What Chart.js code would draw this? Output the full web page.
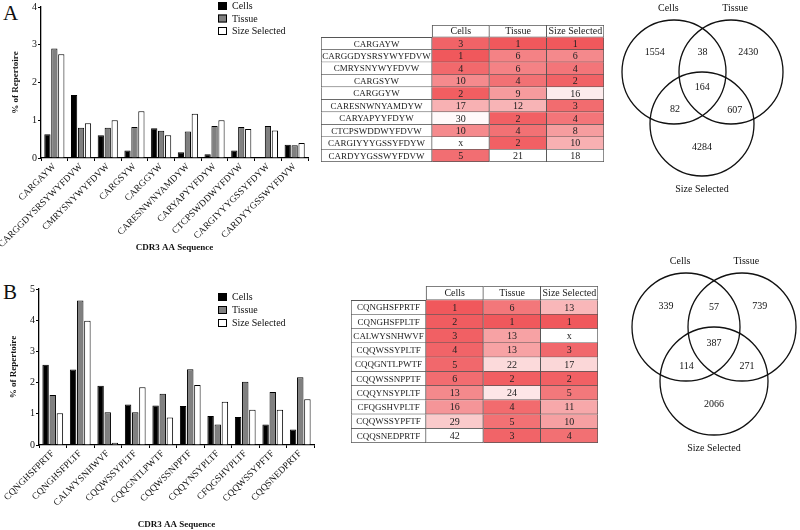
<!DOCTYPE html>
<html lang="en">
<head>
<meta charset="UTF-8">
<title>CDR3 repertoire overlap</title>
<script src="https://cdn.jsdelivr.net/npm/chart.js"></script>
<style>
    body { margin: 0; background: #fff; width: 800px; height: 530px; position: relative; overflow: hidden; font-family: "Liberation Serif", serif; }
    .box { position: absolute; }
    .panel { position: absolute; font-size: 21px; color: #111; line-height: 1; }
</style>
</head>
<body>

<div class="panel" style="left:3px;top:3px">A</div>
<div class="panel" style="left:3px;top:282px">B</div>

<!-- panel A -->
<div class="box" style="left:0;top:0;width:312px;height:255px"><canvas id="barA"></canvas></div>
<div class="box" style="left:321px;top:25px;width:283px;height:137px"><canvas id="tableA"></canvas></div>
<div class="box" style="left:610px;top:0;width:190px;height:200px"><canvas id="vennA"></canvas></div>

<!-- panel B -->
<div class="box" style="left:0;top:262px;width:316px;height:268px"><canvas id="barB"></canvas></div>
<div class="box" style="left:351px;top:286px;width:247px;height:157px"><canvas id="tableB"></canvas></div>
<div class="box" style="left:610px;top:255px;width:190px;height:205px"><canvas id="vennB"></canvas></div>

<script>
const groups = ['Cells', 'Tissue', 'Size Selected'];

// panel A
const seqA = ['CARGAYW', 'CARGGDYSRSYWYFDVW', 'CMRYSNYWYFDVW', 'CARGSYW', 'CARGGYW',
              'CARESNWNYAMDYW', 'CARYAPYYFDYW', 'CTCPSWDDWYFDVW', 'CARGIYYYGSSYFDYW', 'CARDYYGSSWYFDVW'];
const cellsA  = [0.63, 1.67, 0.60, 0.20, 0.79, 0.15, 0.10, 0.20, 0, 0.35];
const tissueA = [2.90, 0.80, 0.80, 0.82, 0.72, 0.70, 0.85, 0.82, 0.85, 0.34];
const sizeA   = [2.75, 0.92, 1.00, 1.24, 0.60, 1.17, 1.00, 0.77, 0.73, 0.40];
const rankCellsA  = [3, 1, 4, 10, 2, 17, 30, 10, 'x', 5];
const rankTissueA = [1, 6, 6, 4, 9, 12, 2, 4, 2, 21];
const rankSizeA   = [1, 6, 4, 2, 16, 3, 4, 8, 10, 18];
const vennA = [1554, 38, 2430, 164, 82, 607, 4284];

// panel B
const seqB = ['CQNGHSFPRTF', 'CQNGHSFPLTF', 'CALWYSNHWVF', 'CQQWSSYPLTF', 'CQQGNTLPWTF',
              'CQQWSSNPPTF', 'CQQYNSYPLTF', 'CFQGSHVPLTF', 'CQQWSSYPFTF', 'CQQSNEDPRTF'];
const cellsB  = [2.57, 2.42, 1.90, 1.30, 1.27, 1.25, 0.93, 0.90, 0.66, 0.50];
const tissueB = [1.60, 4.63, 1.05, 1.05, 1.64, 2.43, 0.66, 2.03, 1.70, 2.17];
const sizeB   = [1.02, 3.98, 0.07, 1.85, 0.88, 1.92, 1.39, 1.13, 1.13, 1.47];
const rankCellsB  = [1, 2, 3, 4, 5, 6, 13, 16, 29, 42];
const rankTissueB = [6, 1, 13, 13, 22, 2, 24, 4, 5, 3];
const rankSizeB   = [13, 1, 'x', 3, 17, 2, 5, 11, 10, 4];
const vennB = [339, 57, 739, 387, 114, 271, 2066];

const serif = '"Liberation Serif", "Times New Roman", serif';
const fills = ['#000000', '#808080', '#ffffff'];

// legend drawn inside the plot, boxes + labels
const boxLegend = {
    id: 'boxLegend',
    afterDraw(chart) {
        const o = chart.config.options.plugins.boxLegend;
        const ctx = chart.ctx;
        ctx.save();
        ctx.font = '10px ' + serif;
        ctx.textBaseline = 'middle';
        chart.data.datasets.forEach((ds, i) => {
            const y = o.y + i * o.step;
            ctx.fillStyle = ds.backgroundColor;
            ctx.fillRect(o.x, y, 9, 8);
            ctx.strokeStyle = '#000';
            ctx.lineWidth = 1;
            ctx.strokeRect(o.x + 0.5, y + 0.5, 8, 7);
            ctx.fillStyle = '#111';
            ctx.fillText(ds.label, o.x + 14, y + 4.5);
        });
        ctx.restore();
    }
};

function barChart(id, labels, series, yMax, cfg) {
    return new Chart(document.getElementById(id), {
        type: 'bar',
        data: {
            labels: labels,
            datasets: series.map((d, i) => ({
                label: groups[i], data: d, backgroundColor: fills[i],
                borderColor: '#000', borderWidth: 1,
                categoryPercentage: 0.78, barPercentage: 0.9
            }))
        },
        options: {
            responsive: true, maintainAspectRatio: false, animation: false,
            layout: { padding: cfg.pad },
            plugins: { legend: { display: false }, tooltip: { enabled: false }, boxLegend: cfg.legend },
            scales: {
                x: {
                    grid: { drawOnChartArea: false, tickLength: 3, color: '#000' },
                    border: { color: '#000', width: 1.3 },
                    ticks: { color: '#111', font: { family: serif, size: 9.5 }, minRotation: 45, maxRotation: 45, autoSkip: false, padding: 0 },
                    title: { display: true, text: 'CDR3 AA Sequence', color: '#111', font: { family: serif, size: 9, weight: 'bold' }, padding: { top: 0, bottom: cfg.titleGap } },
                    afterFit: s => { s.height = cfg.xh; }
                },
                y: {
                    min: 0, max: yMax,
                    grid: { drawOnChartArea: false, tickLength: 3, color: '#000' },
                    border: { color: '#000', width: 1.3 },
                    ticks: { stepSize: 1, color: '#111', font: { family: serif, size: 10 }, padding: 1 },
                    title: { display: true, text: '% of Repertoire', color: '#111', font: { family: serif, size: 9, weight: 'bold' }, padding: 0 },
                    afterFit: s => { s.width = cfg.yw; }
                }
            }
        },
        plugins: [boxLegend]
    });
}

// heat colour: rank 1 is full red, fading to white at whiteAt
function heat(v, whiteAt) {
    if (v === 'x') return '#ffffff';
    const t = Math.min(1, (v - 1) / (whiteAt - 1));
    const red = [240, 88, 92];
    const c = red.map(k => Math.round(k + (255 - k) * t));
    return 'rgb(' + c.join(',') + ')';
}

const cellText = {
    id: 'cellText',
    afterDatasetsDraw(chart) {
        const o = chart.config.options.plugins.cellText;
        const ctx = chart.ctx;
        ctx.save();
        ctx.textAlign = 'center';
        ctx.textBaseline = 'middle';
        ctx.fillStyle = '#222';
        chart.data.datasets.forEach((ds, di) => {
            ctx.font = (di === 0 ? o.nameSize : 10) + 'px ' + serif;
            chart.getDatasetMeta(di).data.forEach((el, i) => {
                if (ds.data[i] == null || !ds.text[i]) return;
                const p = el.getProps(['x', 'y', 'base'], true);
                ctx.fillText(ds.text[i], (p.x + p.base) / 2, p.y + 0.5);
            });
        });
        ctx.restore();
    }
};

function tableChart(id, rows, ranks, whiteAt, nameW, nameSize) {
    const labels = [''].concat(rows);
    const datasets = [{
        label: 'name',
        data: labels.map((_, i) => i === 0 ? null : [-nameW, 0]),
        backgroundColor: '#fff',
        text: labels
    }];
    groups.forEach((g, c) => datasets.push({
        label: g,
        data: labels.map(() => [c, c + 1]),
        backgroundColor: labels.map((_, i) => i === 0 ? '#fff' : heat(ranks[c][i - 1], whiteAt[c])),
        text: [g].concat(ranks[c].map(String))
    }));
    datasets.forEach(d => Object.assign(d, {
        grouped: false, categoryPercentage: 1, barPercentage: 1,
        borderColor: '#555', borderSkipped: false,
        borderWidth: ctx => ({
            left: (ctx.datasetIndex === 0 || (ctx.dataIndex === 0 && ctx.datasetIndex === 1)) ? 1 : 0,
            top: (ctx.dataIndex === 0 || (ctx.dataIndex === 1 && ctx.datasetIndex === 0)) ? 1 : 0,
            right: 1, bottom: 1
        })
    }));
    return new Chart(document.getElementById(id), {
        type: 'bar',
        data: { labels: labels, datasets: datasets },
        options: {
            indexAxis: 'y', responsive: true, maintainAspectRatio: false, animation: false,
            layout: { padding: 0 },
            plugins: { legend: { display: false }, tooltip: { enabled: false }, cellText: { nameSize: nameSize } },
            scales: {
                x: { display: false, min: -nameW, max: 3 },
                y: { display: false }
            }
        },
        plugins: [cellText]
    });
}

// three-circle venn on a pixel-like frame; counts placed relative to the circle centres
function vennChart(id, counts, c, t, s, r, h) {
    const mid = (a, b) => ({ x: (a.x + b.x) / 2, y: (a.y + b.y) / 2 });
    const at = (p, dx, dy) => ({ x: p.x + dx * r, y: p.y + dy * r });
    const cen = { x: (c.x + t.x + s.x) / 3, y: (c.y + t.y + s.y) / 3 };
    const spots = [
        at(c, -0.37, -0.38), at(mid(c, t), 0, -0.37), at(t, 0.33, -0.38),
        at(cen, 0, -0.03), at(mid(c, s), -0.25, 0.22), at(mid(t, s), 0.35, 0.23),
        at(s, 0, 0.44)
    ];
    const names = [at(c, -0.11, -1.22), at(t, 0.08, -1.22), at(s, 0, 1.25)];
    const vennText = {
        id: 'vennText',
        afterDatasetsDraw(chart) {
            const ctx = chart.ctx, X = chart.scales.x, Y = chart.scales.y;
            ctx.save();
            ctx.font = '10px ' + serif;
            ctx.textAlign = 'center';
            ctx.textBaseline = 'middle';
            ctx.fillStyle = '#111';
            counts.forEach((n, i) => ctx.fillText(String(n), X.getPixelForValue(spots[i].x), Y.getPixelForValue(spots[i].y)));
            groups.forEach((g, i) => ctx.fillText(g, X.getPixelForValue(names[i].x), Y.getPixelForValue(names[i].y)));
            ctx.restore();
        }
    };
    return new Chart(document.getElementById(id), {
        type: 'bubble',
        data: {
            datasets: [{
                data: [c, t, s].map(p => ({ x: p.x, y: p.y, r: r })),
                backgroundColor: 'rgba(0,0,0,0)', borderColor: '#111', borderWidth: 1.3,
                hoverRadius: 0, clip: false
            }]
        },
        options: {
            responsive: true, maintainAspectRatio: false, animation: false,
            layout: { padding: 0, autoPadding: false },
            plugins: { legend: { display: false }, tooltip: { enabled: false } },
            scales: {
                x: { display: false, min: 0, max: 190 },
                y: { display: false, min: 0, max: h, reverse: true }
            }
        },
        plugins: [vennText]
    });
}

barChart('barA', seqA, [cellsA, tissueA, sizeA], 4,
    { pad: { top: 7, right: 4, left: 10, bottom: 0 }, xh: 97, yw: 31, titleGap: 2, legend: { x: 218, y: 2, step: 12.5 } });
barChart('barB', seqB, [cellsB, tissueB, sizeB], 5,
    { pad: { top: 27, right: 2, left: 8, bottom: 0 }, xh: 85, yw: 31, titleGap: 0, legend: { x: 218, y: 31, step: 13 } });

tableChart('tableA', seqA, [rankCellsA, rankTissueA, rankSizeA], [31, 21, 18], 1.94, 9);
tableChart('tableB', seqB, [rankCellsB, rankTissueB, rankSizeB], [42, 28, 22], 1.31, 9);

vennChart('vennA', vennA, { x: 64, y: 72 }, { x: 121, y: 72 }, { x: 92, y: 124 }, 52, 200);
vennChart('vennB', vennB, { x: 76, y: 72 }, { x: 132, y: 72 }, { x: 104, y: 126 }, 54, 205);
</script>
</body>
</html>
